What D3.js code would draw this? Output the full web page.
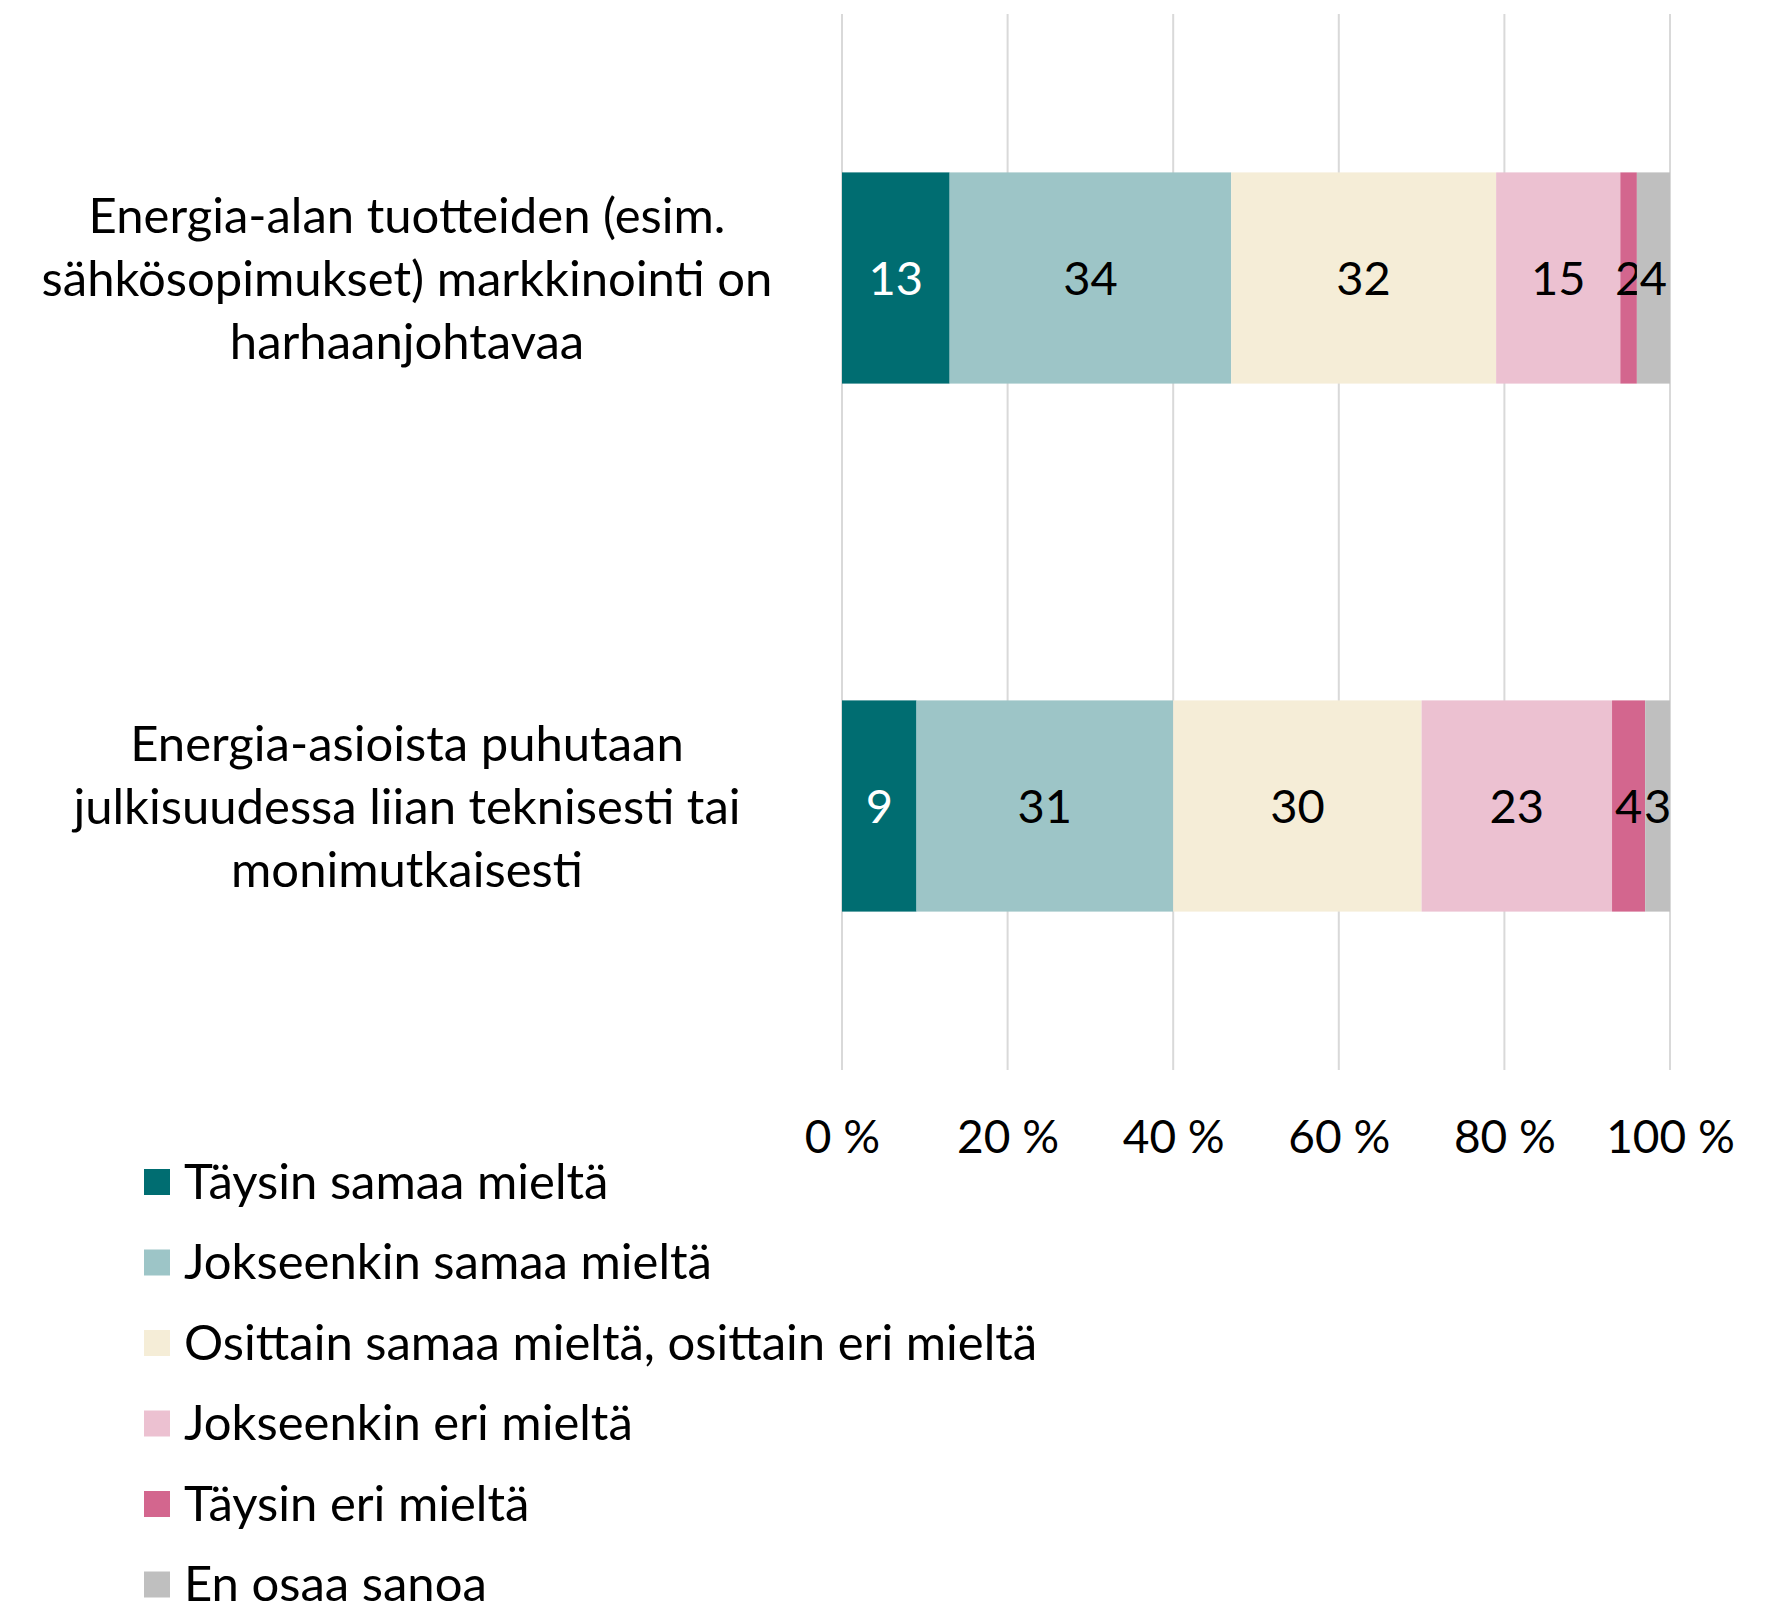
<!DOCTYPE html>
<html>
<head>
<meta charset="utf-8">
<script src="https://cdn.jsdelivr.net/npm/d3@7"></script>
<style>
  body { margin: 0; background: #fff; }
  text { font-family: Lato, "Open Sans", sans-serif; fill: #000; }
</style>
</head>
<body>
<div id="chart"></div>
<script>
const categories = [
    ["Energia-alan tuotteiden (esim.", "sähkösopimukset) markkinointi on", "harhaanjohtavaa"],
    ["Energia-asioista puhutaan", "julkisuudessa liian teknisesti tai", "monimutkaisesti"]
];
const seriesNames = [
    "Täysin samaa mieltä",
    "Jokseenkin samaa mieltä",
    "Osittain samaa mieltä, osittain eri mieltä",
    "Jokseenkin eri mieltä",
    "Täysin eri mieltä",
    "En osaa sanoa"
];
const colors = ["#006d71", "#9dc5c7", "#f5edd7", "#ecc1d1", "#d3668e", "#bfbfbf"];
const labelColors = ["#fff", "#000", "#000", "#000", "#000", "#000"];
// values per category, one per series
const values = [
    [13, 34, 32, 15, 2, 4],
    [9, 31, 30, 23, 4, 3]
];
const ticks = [0, 20, 40, 60, 80, 100];

const width = 1784, height = 1614;
const svg = d3.select("#chart").append("svg").attr("width", width).attr("height", height);

const x = d3.scaleLinear().domain([0, 100]).range([842, 1670]);
const y = d3.scaleBand().domain(d3.range(categories.length)).range([14, 1070])
    .paddingInner(0.6).paddingOuter(0.3);

// gridlines
svg.append("g").selectAll("line").data(ticks).join("line")
    .attr("x1", d => x(d)).attr("x2", d => x(d))
    .attr("y1", 14).attr("y2", 1070)
    .attr("stroke", "#d9d9d9").attr("stroke-width", 2);

// axis labels
const axis = d3.axisBottom(x).tickValues(ticks).tickSize(0).tickPadding(0).tickFormat(d => d + " %");
const ax = svg.append("g").attr("transform", "translate(0,1120)").call(axis);
ax.select(".domain").remove();
ax.selectAll("text").attr("font-size", 46).attr("font-family", "Lato, sans-serif").attr("fill", "#000");

// stacked bars
values.forEach((row, i) => {
    let acc = 0;
    const g = svg.append("g");
    row.forEach((v, j) => {
        const x0 = acc;
        acc += v;
        g.append("rect")
            .attr("x", x(x0)).attr("width", x(acc) - x(x0))
            .attr("y", y(i)).attr("height", y.bandwidth())
            .attr("fill", colors[j]);
        g.append("text")
            .attr("x", x(x0 + v / 2))
            .attr("y", y(i) + y.bandwidth() / 2)
            .attr("dy", "0.36em")
            .attr("text-anchor", "middle")
            .attr("font-size", 47)
            .style("fill", labelColors[j])
            .text(v);
    });

    // category label
    const cy = y(i) + y.bandwidth() / 2;
    const t = svg.append("text")
        .attr("x", 407)
        .attr("text-anchor", "middle")
        .attr("font-size", 49);
    categories[i].forEach((line, k) => {
        t.append("tspan")
            .attr("x", 407)
            .attr("y", cy + (k - 1) * 63)
            .attr("dy", "0.36em")
            .text(line);
    });
});

// legend
const legend = svg.append("g").selectAll("g").data(seriesNames).join("g")
    .attr("transform", (d, i) => `translate(144,${1182 + i * 80.5})`);
legend.append("rect")
    .attr("x", 0).attr("y", -13).attr("width", 26).attr("height", 26)
    .attr("fill", (d, i) => colors[i]);
legend.append("text")
    .attr("x", 40).attr("dy", "0.34em")
    .attr("font-size", 49)
    .text(d => d);
</script>
</body>
</html>
